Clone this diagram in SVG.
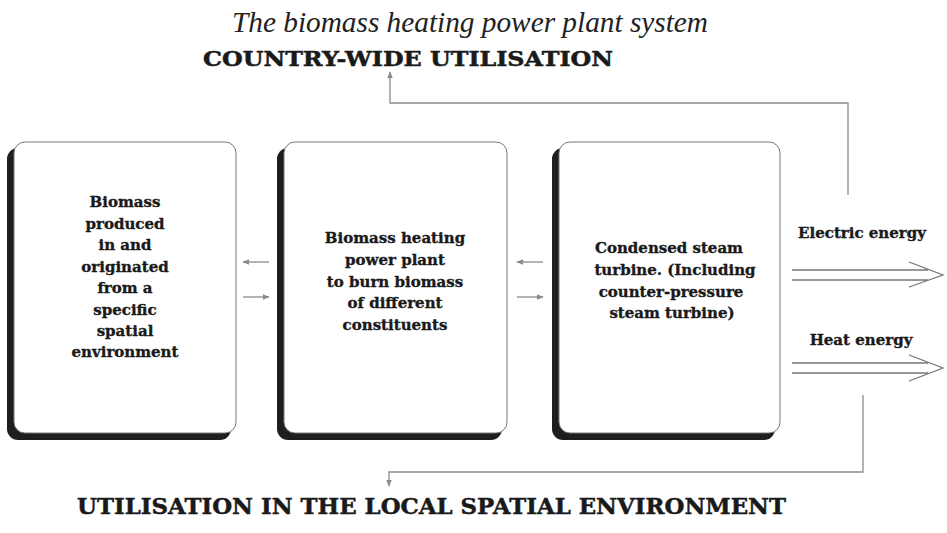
<svg xmlns="http://www.w3.org/2000/svg" width="947" height="533" viewBox="0 0 947 533">
<defs>
<style>
.bg{fill:#ffffff}
.shadow{fill:#1e1e1e}
.box{fill:#ffffff;stroke:#777;stroke-width:1}
.t{font-family:"DejaVu Serif","Liberation Serif",serif;font-weight:bold;font-size:15px;fill:#1a1a1a;stroke:#1a1a1a;stroke-width:0.35;text-anchor:middle}
.head{font-family:"DejaVu Serif","Liberation Serif",serif;font-weight:bold;fill:#1a1a1a;stroke:#1a1a1a;stroke-width:0.5}
.title{font-family:"Liberation Serif",serif;font-style:italic;font-size:30px;fill:#222}
.conn{fill:none;stroke:#8a8a8a;stroke-width:1.3}
.dbl{fill:none;stroke:#777;stroke-width:1.3}
</style>
<marker id="ah" viewBox="0 0 10 10" refX="9" refY="5" markerWidth="7" markerHeight="7" orient="auto-start-reverse" markerUnits="userSpaceOnUse">
<path d="M0,1 L10,5 L0,9 Z" fill="#8a8a8a"/>
</marker>
</defs>
<rect class="bg" x="0" y="0" width="947" height="533"/>

<text class="title" x="232" y="32" textLength="476" lengthAdjust="spacingAndGlyphs">The biomass heating power plant system</text>
<text id="top-label" class="head" x="203" y="66" font-size="21" textLength="410" lengthAdjust="spacingAndGlyphs">COUNTRY-WIDE UTILISATION</text>

<g id="node-biomass">
<rect class="shadow" x="7" y="148" width="224" height="292" rx="11"/>
<rect class="box" x="14" y="142" width="222" height="291" rx="11"/>
<text class="t" x="125" y="207">Biomass</text>
<text class="t" x="125" y="229">produced</text>
<text class="t" x="125" y="250">in and</text>
<text class="t" x="125" y="272">originated</text>
<text class="t" x="125" y="293">from a</text>
<text class="t" x="125" y="315">specific</text>
<text class="t" x="125" y="336">spatial</text>
<text class="t" x="125" y="357">environment</text>
</g>

<g id="node-plant">
<rect class="shadow" x="277" y="148" width="225" height="292" rx="11"/>
<rect class="box" x="284" y="142" width="223" height="291" rx="11"/>
<text class="t" x="395" y="243">Biomass heating</text>
<text class="t" x="395" y="265">power plant</text>
<text class="t" x="395" y="287">to burn biomass</text>
<text class="t" x="395" y="308">of different</text>
<text class="t" x="395" y="330">constituents</text>
</g>

<g id="node-turbine">
<rect class="shadow" x="552" y="148" width="223" height="292" rx="11"/>
<rect class="box" x="559" y="142" width="221" height="291" rx="11"/>
<text class="t" x="669" y="253">Condensed steam</text>
<text class="t" x="675" y="275">turbine. (Including</text>
<text class="t" x="671" y="297">counter-pressure</text>
<text class="t" x="672" y="318">steam turbine)</text>
</g>

<g id="node-electric">
<text class="t" x="862" y="238">Electric energy</text>
<path class="dbl" d="M792,270 H928 M792,280 H928 M909,262 L943,275 L909,287"/>
</g>

<g id="node-heat">
<text class="t" x="861" y="345">Heat energy</text>
<path class="dbl" d="M792,363 H928 M792,373 H928 M909,355 L943,368 L909,381"/>
</g>

<text id="bottom-label" class="head" x="77" y="514" font-size="23" textLength="709" lengthAdjust="spacingAndGlyphs">UTILISATION IN THE LOCAL SPATIAL ENVIRONMENT</text>

<g id="connectors">
<path class="conn" d="M848,195 V103 H390 V72" marker-end="url(#ah)"/>
<path class="conn" d="M863,395 V472 H389 V486" marker-end="url(#ah)"/>
<path class="conn" d="M269,262 H243" marker-end="url(#ah)"/>
<path class="conn" d="M243,297 H269" marker-end="url(#ah)"/>
<path class="conn" d="M543,262 H517" marker-end="url(#ah)"/>
<path class="conn" d="M517,297 H543" marker-end="url(#ah)"/>
</g>
</svg>
